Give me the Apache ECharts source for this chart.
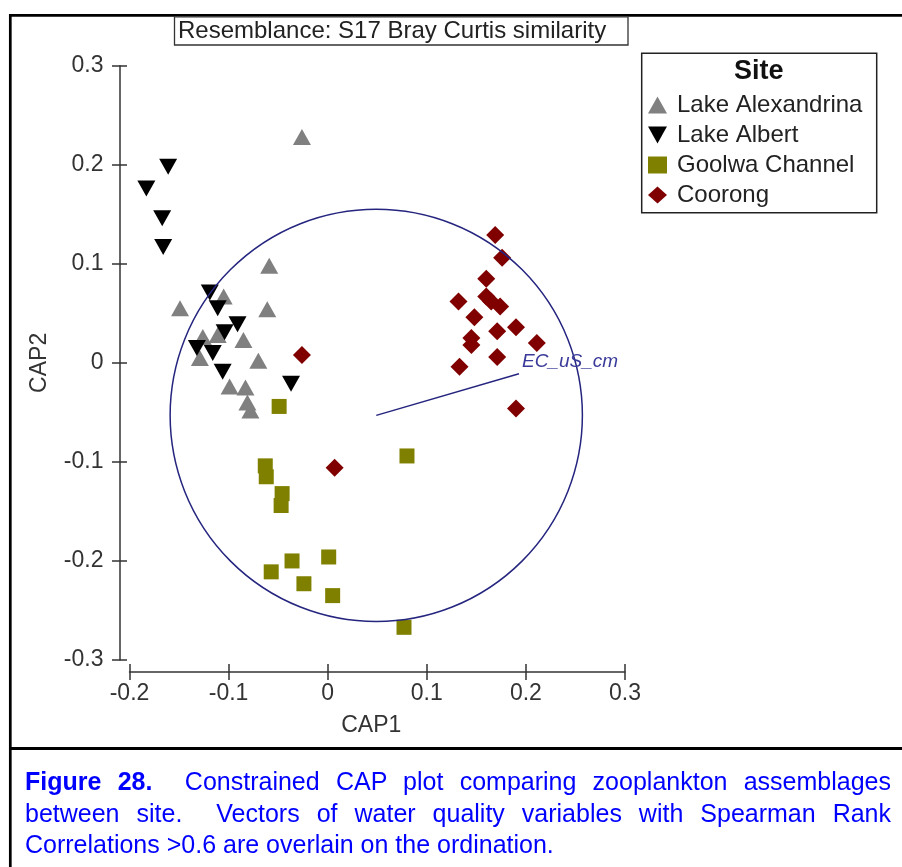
<!DOCTYPE html>
<html>
<head>
<meta charset="utf-8">
<script src="https://cdn.jsdelivr.net/npm/echarts@6/dist/echarts.min.js"></script>
<style>
  html, body { margin: 0; padding: 0; background: #fff; }
  #chart { position: absolute; left: 0; top: 0; width: 902px; height: 867px; }
  #caption {
    position: absolute; left: 25px; top: 766px; width: 866px;
    font-family: "Liberation Sans", Arial, sans-serif; font-size: 25px;
    line-height: 31.5px; color: #0000ff;
  }
  #caption .row { display: block; text-align: justify; text-align-last: justify; white-space: nowrap; }
  #caption .row.last { text-align: left; text-align-last: left; }
  #caption b { font-weight: bold; }
</style>
</head>
<body>
<div id="chart"></div>
<div id="caption">
  <span class="row"><b>Figure 28.</b>&nbsp; Constrained CAP plot comparing zooplankton assemblages</span>
  <span class="row">between site.&nbsp; Vectors of water quality variables with Spearman Rank</span>
  <span class="row last">Correlations &gt;0.6 are overlain on the ordination.</span>
</div>
<script>
// Site groups shown in the legend
const siteNames = ['Lake Alexandrina', 'Lake Albert', 'Goolwa Channel', 'Coorong'];

// CAP1 / CAP2 scores per sample
const lakeAlexandrina = [
  [-0.026, 0.228], [-0.059, 0.098], [-0.105, 0.067], [-0.149, 0.055],
  [-0.061, 0.054], [-0.126, 0.026], [-0.111, 0.028], [-0.085, 0.023],
  [-0.129, 0.005], [-0.070, 0.002], [-0.099, -0.024], [-0.083, -0.025],
  [-0.081, -0.040], [-0.078, -0.048]
];
const lakeAlbert = [
  [-0.161, 0.198], [-0.183, 0.176], [-0.167, 0.146], [-0.166, 0.117],
  [-0.119, 0.071], [-0.111, 0.055], [-0.091, 0.039], [-0.104, 0.031],
  [-0.132, 0.015], [-0.116, 0.010], [-0.106, -0.009], [-0.037, -0.021]
];
const goolwaChannel = [
  [-0.049, -0.044], [-0.063, -0.104], [-0.062, -0.115], [-0.046, -0.132],
  [-0.047, -0.144], [0.080, -0.094], [-0.036, -0.200], [-0.057, -0.211],
  [0.001, -0.196], [-0.024, -0.223], [0.005, -0.235], [0.077, -0.267]
];
const coorong = [
  [-0.026, 0.008], [0.169, 0.129], [0.176, 0.106], [0.160, 0.085],
  [0.160, 0.067], [0.165, 0.062], [0.174, 0.057], [0.132, 0.062],
  [0.148, 0.046], [0.171, 0.032], [0.190, 0.036], [0.145, 0.025],
  [0.145, 0.018], [0.211, 0.020], [0.171, 0.006], [0.133, -0.004],
  [0.190, -0.046], [0.007, -0.106]
];

// Correlation circle: centre x, centre y, radius (axis units)
const corrCircle = [[0.049, -0.053, 0.208]];
// Water quality vector: start x, start y, end x, end y
const vectorNames = ['EC_uS_cm'];
const vectorSegments = [[0.049, -0.053, 0.193, -0.011]];

// Axis ranges
const xRange = [-0.2, 0.3];
const yRange = [-0.3, 0.3];
const tickStep = 0.1;

const NAVY = '#25257f';
const AXIS = '#333333';
const FONT = '"Liberation Sans", Arial, sans-serif';

const chart = echarts.init(document.getElementById('chart'), null, { renderer: 'canvas' });

const lineStyle = { color: AXIS, width: 1.5 };
const axisCommon = {
  type: 'value',
  interval: tickStep,
  splitLine: { show: false },
  axisLine: { show: true, onZero: false, lineStyle: lineStyle }
};

const option = {
  backgroundColor: '#ffffff',
  animation: false,
  grid: { left: 129.5, top: 65.7, width: 495.5, height: 594.3, containLabel: false },
  xAxis: [
    Object.assign({}, axisCommon, {
      min: xRange[0], max: xRange[1], offset: 12,
      axisTick: { show: true, inside: false, length: 8, lineStyle: lineStyle },
      axisLabel: { color: AXIS, fontSize: 23, fontFamily: FONT, margin: 10 },
      name: 'CAP1', nameLocation: 'middle', nameGap: 42,
      nameTextStyle: { color: AXIS, fontSize: 23, fontFamily: FONT, padding: [0, 12, 0, 0] }
    }),
    Object.assign({}, axisCommon, {
      min: xRange[0], max: xRange[1], offset: 12, position: 'bottom',
      axisLine: { show: false, onZero: false },
      axisTick: { show: true, inside: true, length: 8, lineStyle: lineStyle },
      axisLabel: { show: false }
    })
  ],
  yAxis: [
    Object.assign({}, axisCommon, {
      min: yRange[0], max: yRange[1], offset: 10,
      axisTick: { show: true, inside: false, length: 7.5, lineStyle: lineStyle },
      axisLabel: { color: AXIS, fontSize: 23, fontFamily: FONT, margin: 16 },
      name: 'CAP2', nameLocation: 'middle', nameGap: 68, nameRotate: 90,
      nameTextStyle: { color: AXIS, fontSize: 23, fontFamily: FONT }
    }),
    Object.assign({}, axisCommon, {
      min: yRange[0], max: yRange[1], offset: 10, position: 'left',
      axisLine: { show: false, onZero: false },
      axisTick: { show: true, inside: true, length: 7.5, lineStyle: lineStyle },
      axisLabel: { show: false }
    })
  ],
  legend: {
    orient: 'vertical', left: 648, top: 90,
    itemGap: 0, itemWidth: 19, itemHeight: 17, padding: 0,
    selectedMode: false,
    textStyle: { fontSize: 24, lineHeight: 30, color: '#222', fontFamily: FONT, padding: [0, 0, 0, 5] },
    data: siteNames
  },
  graphic: [
    { type: 'rect', z: 100, silent: true,
      shape: { x: 10.3, y: 15.3, width: 1000, height: 1000 },
      style: { fill: 'none', stroke: '#000', lineWidth: 2.7 } },
    { type: 'line', z: 100, silent: true,
      shape: { x1: 10, y1: 748.5, x2: 910, y2: 748.5 },
      style: { stroke: '#000', lineWidth: 3 } },
    { type: 'rect', z: 100, silent: true,
      shape: { x: 174.5, y: 16.8, width: 453.5, height: 28.2 },
      style: { fill: '#fff', stroke: '#333', lineWidth: 1.3 } },
    { type: 'text', z: 101, silent: true, x: 178, y: 31.5,
      style: { text: 'Resemblance: S17 Bray Curtis similarity', fill: '#222',
               font: '24px ' + FONT, verticalAlign: 'middle', align: 'left' } },
    { type: 'rect', z: 1, silent: true,
      shape: { x: 641.7, y: 53.3, width: 235, height: 159.4 },
      style: { fill: '#fff', stroke: '#222', lineWidth: 1.5 } },
    { type: 'text', z: 101, silent: true, x: 758.7, y: 72,
      style: { text: 'Site', fill: '#111', font: 'bold 27px ' + FONT,
               verticalAlign: 'middle', align: 'center' } }
  ],
  series: [
    { name: siteNames[0], type: 'scatter', data: lakeAlexandrina,
      symbol: 'triangle', symbolSize: [18, 16], itemStyle: { color: '#808080', opacity: 1 }, z: 3 },
    { name: siteNames[1], type: 'scatter', data: lakeAlbert,
      symbol: 'path://M0,0L20,0L10,18Z', symbolSize: [18, 16], itemStyle: { color: '#000000', opacity: 1 }, z: 3 },
    { name: siteNames[2], type: 'scatter', data: goolwaChannel,
      symbol: 'rect', symbolSize: [15, 15], itemStyle: { color: '#808000', opacity: 1 }, z: 3 },
    { name: siteNames[3], type: 'scatter', data: coorong,
      symbol: 'diamond', symbolSize: [18, 18], itemStyle: { color: '#800000', opacity: 1 }, z: 3 },
    { type: 'custom', name: 'circle', data: corrCircle, z: 4, silent: true,
      encode: { x: 0, y: 1 },
      renderItem: function (params, api) {
        const c = api.coord([api.value(0), api.value(1)]);
        const r = api.size([api.value(2), 0])[0];
        return { type: 'circle', shape: { cx: c[0], cy: c[1], r: r },
                 style: { fill: 'none', stroke: NAVY, lineWidth: 1.5 } };
      } },
    { type: 'custom', name: 'vectors', data: vectorSegments, z: 4, silent: true,
      encode: { x: [0, 2], y: [1, 3] },
      renderItem: function (params, api) {
        const p0 = api.coord([api.value(0), api.value(1)]);
        const p1 = api.coord([api.value(2), api.value(3)]);
        return { type: 'group', children: [
          { type: 'line', shape: { x1: p0[0], y1: p0[1], x2: p1[0], y2: p1[1] },
            style: { stroke: NAVY, lineWidth: 1.5 } },
          { type: 'text', x: p1[0] + 3, y: p1[1] - 12,
            style: { text: vectorNames[params.dataIndex], fill: '#3a3a9a',
                     font: 'italic 19px ' + FONT, verticalAlign: 'middle', align: 'left' } }
        ] };
      } }
  ]
};

chart.setOption(option);
</script>
</body>
</html>
